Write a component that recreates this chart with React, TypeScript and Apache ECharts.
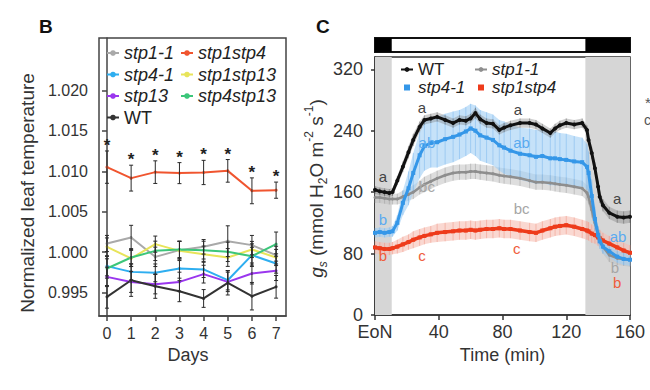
import React, { useEffect, useRef } from 'react';
import * as echarts from 'echarts';

const FONT = '"Liberation Sans", Arial, Helvetica, sans-serif';

// ---------- Panel B: normalized leaf temperature ----------
const days = [0, 1, 2, 3, 4, 5, 6, 7];
const bTickValues = [0.995, 1.0, 1.005, 1.01, 1.015, 1.02];

const bStp1_1 = [1.00107, 1.00182, 0.99942, 1.00025, 1.00066, 1.00136, 1.00087, 0.99963];
const bStp1stp4 = [1.01052, 1.00916, 1.0099, 1.00978, 1.00986, 1.01006, 1.00759, 1.00767];
const bStp4_1 = [0.99827, 0.99756, 0.99744, 0.99798, 0.99786, 0.99653, 0.99963, 0.9986];
const bStp1stp13 = [1.00066, 0.99922, 1.00099, 1.00016, 0.99975, 0.99934, 1.00033, 0.99934];
const bStp13 = [0.99694, 0.99632, 0.99604, 0.99632, 0.99728, 0.99632, 0.99736, 0.99769];
const bStp4stp13 = [0.99798, 0.99934, 1.00016, 1.00033, 1.00025, 1.00004, 0.9995, 1.00099];
const bWT = [0.99447, 0.99653, 0.99579, 0.99517, 0.99427, 0.9962, 0.99455, 0.99571];

const bStp1_1Err = [0.001, 0.0015, 0.0012, 0.0011, 0.0009, 0.0019, 0.0012, 0.0011];
const bStp1stp4Err = [0.002, 0.0016, 0.0014, 0.0013, 0.0015, 0.0014, 0.0016, 0.001];
const bStp4_1Err = [0.0012, 0.001, 0.0011, 0.0012, 0.001, 0.0012, 0.0014, 0.0012];
const bStp1stp13Err = [0.0011, 0.001, 0.001, 0.0012, 0.001, 0.0011, 0.001, 0.001];
const bStp13Err = [0.0012, 0.0013, 0.0012, 0.0012, 0.0011, 0.0012, 0.0013, 0.0012];
const bStp4stp13Err = [0.0012, 0.0011, 0.0012, 0.001, 0.0011, 0.0012, 0.0011, 0.0015];
const bWTErr = [0.0014, 0.002, 0.0015, 0.0013, 0.0011, 0.0015, 0.0017, 0.0014];

const bNames = ['stp1-1', 'stp1stp4', 'stp4-1', 'stp1stp13', 'stp13', 'stp4stp13', 'WT'];
const bColors = ['#a9a9a9', '#f0552f', '#2eaef0', '#e8e45a', '#9a36ee', '#3cc67a', '#333333'];
const bValues = [bStp1_1, bStp1stp4, bStp4_1, bStp1stp13, bStp13, bStp4stp13, bWT];
const bErrors = [bStp1_1Err, bStp1stp4Err, bStp4_1Err, bStp1stp13Err, bStp13Err, bStp4stp13Err, bWTErr];
const bLegendLeftCol = ['stp1-1', 'stp4-1', 'stp13', 'WT'];
const bLegendRightCol = ['stp1stp4', 'stp1stp13', 'stp4stp13'];

// ---------- Panel C: stomatal conductance ----------
const cTimes = [
  0, 3, 6, 9, 11,
  14, 17.5, 21, 24, 28,
  31, 35, 39, 44, 49,
  53, 57, 60, 63, 66,
  70, 74, 78, 81, 85,
  91, 97, 101, 105, 110,
  113, 116, 120, 125, 130,
  133, 134, 136, 138, 140,
  141, 143, 147, 152, 156,
  160,
];
const cTimeTicks = [0, 40, 80, 120, 160];
const cValueTicks = [0, 80, 160, 240, 320];
const nightStart = [0, 132];
const nightEnd = [10.5, 160];

const cWT = [
  163, 161, 160, 159, 160,
  175, 193, 212, 228, 245,
  254, 256, 258, 254, 250,
  254, 253, 256, 263, 255,
  250, 249, 241, 244, 247,
  250, 250, 248, 243, 237,
  243, 247, 250, 248, 250,
  241, 228, 211, 191, 167,
  154, 143, 133, 128, 127,
  128,
];
const cWTErr = [
  5, 5, 5, 5, 5,
  6, 7, 8, 8, 7,
  6, 6, 6, 6, 6,
  6, 6, 6, 7, 6,
  6, 6, 6, 6, 6,
  6, 6, 6, 6, 6,
  6, 6, 6, 6, 6,
  6, 7, 8, 8, 8,
  8, 8, 8, 8, 8,
  8,
];
const cStp4_1 = [
  107, 108, 107, 108, 109,
  120, 146, 165, 185, 208,
  220, 224, 225, 229, 232,
  235, 239, 243, 240, 234,
  231, 228, 221, 218, 214,
  210, 208, 206, 207, 204,
  204, 203, 202, 200, 199,
  193, 185, 155, 125, 104,
  96, 89, 83, 76, 73,
  72,
];
const cStp4_1Err = [
  6, 6, 6, 6, 7,
  10, 16, 22, 26, 30,
  32, 32, 33, 33, 33,
  32, 32, 32, 33, 33,
  33, 33, 33, 34, 34,
  34, 35, 35, 35, 35,
  35, 34, 34, 33, 32,
  30, 28, 22, 16, 12,
  10, 9, 8, 8, 8,
  8,
];
const cStp1_1 = [
  153, 153, 152, 151, 151,
  151, 154, 157, 160, 166,
  170, 174, 178, 182, 185,
  186, 186, 187, 187, 186,
  185, 184, 182, 181, 180,
  178, 175, 173, 173, 172,
  171, 170, 169, 167, 165,
  159, 154, 137, 120, 106,
  101, 89, 78, 74, 73,
  72,
];
const cStp1_1Err = [
  7, 7, 7, 7, 7,
  7, 8, 8, 9, 9,
  10, 10, 10, 10, 10,
  10, 10, 10, 10, 10,
  10, 10, 10, 10, 10,
  10, 10, 10, 10, 10,
  10, 10, 10, 10, 10,
  10, 10, 10, 10, 9,
  9, 9, 9, 9, 9,
  9,
];
const cStp1stp4 = [
  88, 87, 86, 86, 87,
  89, 92, 95, 98, 101,
  103, 105, 107, 108, 109,
  110, 110, 111, 110, 111,
  112, 112, 113, 112, 112,
  110, 108, 107, 110, 113,
  115, 116, 117, 115, 112,
  110, 109, 106, 104, 101,
  100, 97, 93, 88, 84,
  81,
];
const cStp1stp4Err = [
  8, 8, 8, 8, 8,
  9, 10, 10, 11, 11,
  11, 11, 12, 12, 12,
  12, 12, 12, 12, 12,
  12, 12, 12, 12, 12,
  12, 12, 12, 12, 12,
  12, 12, 12, 12, 12,
  12, 12, 12, 11, 11,
  11, 10, 10, 10, 10,
  10,
];

// significance letters
const letterTimes = [5, 5, 5, 29.5, 32.6, 32.6, 29.5, 89.7, 92, 92, 89, 152, 152.5, 150.6, 152];
const letterValues = [180, 125, 78, 270, 225, 167, 78, 267, 225, 139, 87, 152, 102, 62, 42];
const letterTexts = ['a', 'b', 'b', 'a', 'ab', 'bc', 'c', 'a', 'ab', 'bc', 'c', 'a', 'ab', 'b', 'b'];
const letterGenotypes = [
  'WT', 'stp4-1', 'stp1stp4', 'WT', 'stp4-1', 'stp1-1', 'stp1stp4',
  'WT', 'stp4-1', 'stp1-1', 'stp1stp4', 'WT', 'stp4-1', 'stp1-1', 'stp1stp4',
];

const cStyle: Record<string, { line: string; band: string; stripe: string; letter: string }> = {
  WT: { line: '#111111', band: 'rgba(120,120,120,0.35)', stripe: 'rgba(60,60,60,0.35)', letter: '#444444' },
  'stp1-1': { line: '#8e8e8e', band: 'rgba(190,190,190,0.5)', stripe: 'rgba(150,150,150,0.45)', letter: '#a6a6a6' },
  'stp4-1': { line: '#3597e8', band: 'rgba(160,206,245,0.6)', stripe: 'rgba(110,175,235,0.45)', letter: '#5aaaf0' },
  stp1stp4: { line: '#ee3b1b', band: 'rgba(246,190,178,0.6)', stripe: 'rgba(238,130,110,0.4)', letter: '#ef5d3c' },
};

const axisColor = '#333333';
const sqIcon = 'path://M0,0h1v1h-1z';

function buildOption(): any {
  const series: any[] = [];

  // ----- Panel B -----
  bNames.forEach((n, i) => {
    series.push({
      name: n,
      type: 'line',
      xAxisIndex: 0,
      yAxisIndex: 0,
      data: days.map((d, j) => [d, bValues[i][j]]),
      symbol: 'circle',
      symbolSize: 3,
      showSymbol: true,
      lineStyle: { width: 2, color: bColors[i] },
      itemStyle: { color: bColors[i] },
      z: 3,
      silent: true,
    });
  });
  bNames.forEach((n, i) => {
    series.push({
      type: 'custom',
      xAxisIndex: 0,
      yAxisIndex: 0,
      silent: true,
      z: 4,
      data: days.map((d, j) => [d, bValues[i][j] - bErrors[i][j], bValues[i][j] + bErrors[i][j]]),
      renderItem: (params: any, api: any) => {
        const x = api.value(0);
        const top = api.coord([x, api.value(2)]);
        const bot = api.coord([x, api.value(1)]);
        const w = 2;
        const st = { stroke: '#2a2a2a', lineWidth: 1 };
        return {
          type: 'group',
          children: [
            { type: 'line', shape: { x1: top[0], y1: top[1], x2: bot[0], y2: bot[1] }, style: st },
            { type: 'line', shape: { x1: top[0] - w, y1: top[1], x2: top[0] + w, y2: top[1] }, style: st },
            { type: 'line', shape: { x1: bot[0] - w, y1: bot[1], x2: bot[0] + w, y2: bot[1] }, style: st },
          ],
        };
      },
    });
  });
  // significance stars above stp1stp4
  series.push({
    type: 'custom',
    xAxisIndex: 0,
    yAxisIndex: 0,
    silent: true,
    z: 5,
    data: days.map((d, j) => [d, bStp1stp4[j] + bStp1stp4Err[j]]),
    renderItem: (params: any, api: any) => {
      const p = api.coord([api.value(0), api.value(1)]);
      return {
        type: 'text',
        x: p[0],
        y: p[1] + 3,
        style: { text: '*', fill: '#222', font: `bold 17px ${FONT}`, align: 'center', verticalAlign: 'bottom' },
      };
    },
  });

  // ----- Panel C -----
  // night shading
  series.push({
    type: 'line',
    xAxisIndex: 1,
    yAxisIndex: 1,
    data: [[0, 0]],
    symbol: 'none',
    lineStyle: { opacity: 0 },
    silent: true,
    z: 0,
    markArea: {
      silent: true,
      itemStyle: { color: '#d6d6d6' },
      data: nightStart.map((s, i) => [{ xAxis: s }, { xAxis: nightEnd[i] }]),
    },
  });
  // top light/dark bar
  series.push({
    type: 'line',
    xAxisIndex: 2,
    yAxisIndex: 2,
    data: [[0, 0]],
    symbol: 'none',
    lineStyle: { opacity: 0 },
    silent: true,
    z: 1,
    markArea: {
      silent: true,
      itemStyle: { color: '#000000' },
      data: nightStart.map((s, i) => [{ xAxis: s }, { xAxis: nightEnd[i] }]),
    },
  });

  const cSets = [
    { key: 'stp1stp4', vals: cStp1stp4, errs: cStp1stp4Err, width: 3.5, symbol: 'rect', size: 4 },
    { key: 'stp1-1', vals: cStp1_1, errs: cStp1_1Err, width: 2.5, symbol: 'circle', size: 3 },
    { key: 'stp4-1', vals: cStp4_1, errs: cStp4_1Err, width: 3, symbol: 'rect', size: 4 },
    { key: 'WT', vals: cWT, errs: cWTErr, width: 3, symbol: 'circle', size: 4 },
  ];
  cSets.forEach((s, k) => {
    const st = cStyle[s.key];
    series.push({
      type: 'custom',
      xAxisIndex: 1,
      yAxisIndex: 1,
      silent: true,
      z: 1 + k * 0.01,
      data: cTimes.map((t, i) => [t, s.vals[i] - s.errs[i], s.vals[i] + s.errs[i]]),
      renderItem: (params: any, api: any) => {
        if (params.dataIndex !== 0) return null;
        const upper = cTimes.map((t, i) => api.coord([t, s.vals[i] + s.errs[i]]));
        const lower = cTimes.map((t, i) => api.coord([t, s.vals[i] - s.errs[i]]));
        const children: any[] = [
          {
            type: 'polygon',
            shape: { points: upper.concat(lower.slice().reverse()) },
            style: { fill: st.band },
          },
        ];
        upper.forEach((u, i) => {
          children.push({
            type: 'line',
            shape: { x1: u[0], y1: u[1], x2: lower[i][0], y2: lower[i][1] },
            style: { stroke: st.stripe, lineWidth: 1 },
          });
        });
        return { type: 'group', children };
      },
    });
  });
  cSets.forEach((s, k) => {
    series.push({
      name: 'C:' + s.key,
      type: 'line',
      xAxisIndex: 1,
      yAxisIndex: 1,
      data: cTimes.map((t, i) => [t, s.vals[i]]),
      symbol: s.symbol,
      symbolSize: s.size,
      showSymbol: true,
      lineStyle: { width: s.width, color: cStyle[s.key].line },
      itemStyle: { color: cStyle[s.key].line },
      silent: true,
      z: 3 + k * 0.1,
    });
  });
  series.push({
    type: 'custom',
    xAxisIndex: 1,
    yAxisIndex: 1,
    silent: true,
    z: 6,
    data: letterTimes.map((t, i) => [t, letterValues[i]]),
    renderItem: (params: any, api: any) => {
      const i = params.dataIndex;
      const p = api.coord([api.value(0), api.value(1)]);
      return {
        type: 'text',
        x: p[0],
        y: p[1],
        style: {
          text: letterTexts[i],
          fill: cStyle[letterGenotypes[i]].letter,
          font: `15px ${FONT}`,
          align: 'center',
          verticalAlign: 'middle',
        },
      };
    },
  });

  const legendRich = (size: number) => ({
    i: { fontStyle: 'italic', fontSize: size, fontFamily: FONT, color: '#222' },
    n: { fontSize: size, fontFamily: FONT, color: '#222' },
  });
  const bLegendFmt = (name: string) => (name === 'WT' ? `{n|${name}}` : `{i|${name}}`);
  const cLegendFmt = (name: string) => {
    const n = name.slice(2);
    return n === 'WT' ? `{n|${n}}` : `{i|${n}}`;
  };
  const baseLegend = {
    orient: 'vertical',
    padding: 0,
    selectedMode: false,
    itemWidth: 12,
  };

  const labelStyle = (size: number) => ({ fontSize: size, color: axisColor, fontFamily: FONT });

  return {
    animation: false,
    backgroundColor: '#ffffff',
    textStyle: { fontFamily: FONT },
    grid: [
      { left: 99, top: 38, width: 187, height: 278, show: true, borderColor: '#444', borderWidth: 1.5, backgroundColor: '#fff', containLabel: false },
      { left: 375, top: 57, width: 255, height: 258, show: true, borderColor: '#333', borderWidth: 1.5, backgroundColor: '#fff', containLabel: false },
      { left: 375, top: 38, width: 255, height: 14, show: true, borderColor: '#111', borderWidth: 2, backgroundColor: '#fff', containLabel: false },
    ],
    xAxis: [
      {
        gridIndex: 0,
        type: 'value',
        min: -0.33,
        max: 7.41,
        axisLine: { show: true, lineStyle: { color: '#444', width: 1.5 } },
        axisTick: { show: true, customValues: days, length: 5, lineStyle: { color: '#444', width: 1.5 } },
        axisLabel: { customValues: days, margin: 9, ...labelStyle(16) },
        splitLine: { show: false },
        name: 'Days',
        nameLocation: 'middle',
        nameGap: 29,
        nameTextStyle: { ...labelStyle(18), padding: [0, 9, 0, 0] },
      },
      {
        gridIndex: 1,
        type: 'value',
        min: 0,
        max: 160,
        axisLine: { show: true, lineStyle: { color: axisColor, width: 1.5 } },
        axisTick: { show: true, customValues: cTimeTicks, length: 5, lineStyle: { color: axisColor, width: 1.5 } },
        axisLabel: {
          customValues: cTimeTicks,
          margin: 8,
          formatter: (v: number) => (v === 0 ? 'EoN' : String(v)),
          ...labelStyle(18),
        },
        splitLine: { show: false },
        name: 'Time (min)',
        nameLocation: 'middle',
        nameGap: 31,
        nameTextStyle: labelStyle(18),
      },
      { gridIndex: 2, type: 'value', min: 0, max: 160, show: false },
    ],
    yAxis: [
      {
        gridIndex: 0,
        type: 'value',
        min: 0.9921,
        max: 1.0265,
        axisLine: { show: true, lineStyle: { color: '#444', width: 1.5 } },
        axisTick: { show: true, customValues: bTickValues, length: 5, lineStyle: { color: '#444', width: 1.5 } },
        axisLabel: {
          customValues: bTickValues,
          margin: 11,
          formatter: (v: number) => v.toFixed(3),
          ...labelStyle(16),
        },
        splitLine: { show: false },
        name: 'Normalized leaf temperature',
        nameLocation: 'middle',
        nameGap: 62,
        nameTextStyle: { ...labelStyle(19), padding: [0, 32, 0, 0] },
      },
      {
        gridIndex: 1,
        type: 'value',
        min: 0,
        max: 336,
        axisLine: { show: true, lineStyle: { color: axisColor, width: 1.5 } },
        axisTick: { show: true, customValues: cValueTicks, length: 4, lineStyle: { color: axisColor, width: 1.5 } },
        axisLabel: { customValues: cValueTicks, margin: 12, ...labelStyle(18) },
        splitLine: { show: false },
        name: '{gi|g}{sbi|s}{t| (mmol H}{sb|2}{t|O m}{sp|-2}{t| s}{sp|-1}{t|)}',
        nameLocation: 'middle',
        nameGap: 45,
        nameTextStyle: {
          ...labelStyle(19),
          padding: [0, 5, 0, 0],
          rich: {
            gi: { fontStyle: 'italic', fontSize: 19, lineHeight: 26, color: axisColor, fontFamily: FONT },
            t: { fontSize: 19, lineHeight: 26, color: axisColor, fontFamily: FONT },
            sbi: { fontStyle: 'italic', fontSize: 12, lineHeight: 13, verticalAlign: 'bottom', color: axisColor, fontFamily: FONT },
            sb: { fontSize: 12, lineHeight: 13, verticalAlign: 'bottom', color: axisColor, fontFamily: FONT },
            sp: { fontSize: 12, lineHeight: 13, verticalAlign: 'top', color: axisColor, fontFamily: FONT },
          },
        },
      },
      { gridIndex: 2, type: 'value', min: 0, max: 1, show: false },
    ],
    legend: [
      {
        ...baseLegend,
        left: 106,
        top: 44,
        itemGap: 3.5,
        itemHeight: 7,
        data: bLegendLeftCol,
        formatter: bLegendFmt,
        textStyle: { fontSize: 18, fontFamily: FONT, rich: legendRich(18) },
      },
      {
        ...baseLegend,
        left: 180,
        top: 44,
        itemGap: 3.5,
        itemHeight: 7,
        data: bLegendRightCol,
        formatter: bLegendFmt,
        textStyle: { fontSize: 18, fontFamily: FONT, rich: legendRich(18) },
      },
      {
        ...baseLegend,
        left: 400,
        top: 61,
        itemGap: 1,
        itemHeight: 6,
        data: [{ name: 'C:WT' }, { name: 'C:stp4-1', icon: sqIcon }],
        formatter: cLegendFmt,
        textStyle: { fontSize: 17, fontFamily: FONT, rich: legendRich(17) },
      },
      {
        ...baseLegend,
        left: 474,
        top: 61,
        itemGap: 1,
        itemHeight: 6,
        data: [{ name: 'C:stp1-1' }, { name: 'C:stp1stp4', icon: sqIcon }],
        formatter: cLegendFmt,
        textStyle: { fontSize: 17, fontFamily: FONT, rich: legendRich(17) },
      },
    ],
    graphic: [
      { type: 'text', left: 39, top: 17, style: { text: 'B', font: `bold 19px ${FONT}`, fill: '#111' } },
      { type: 'text', left: 316, top: 17, style: { text: 'C', font: `bold 19px ${FONT}`, fill: '#111' } },
      { type: 'text', left: 645, top: 95, style: { text: '*', font: `15px ${FONT}`, fill: '#555' } },
      { type: 'text', left: 644, top: 113, style: { text: 'c', font: `14px ${FONT}`, fill: '#555' } },
    ],
    series,
  };
}

export default function App() {
  const ref = useRef<HTMLDivElement>(null);
  useEffect(() => {
    if (!ref.current) return;
    const chart = echarts.init(ref.current, null, { renderer: 'svg' });
    chart.setOption(buildOption());
    return () => chart.dispose();
  }, []);
  return (
    <div
      ref={ref}
      style={{ position: 'fixed', left: 0, top: 0, width: 650, height: 390, background: '#fff' }}
    />
  );
}
